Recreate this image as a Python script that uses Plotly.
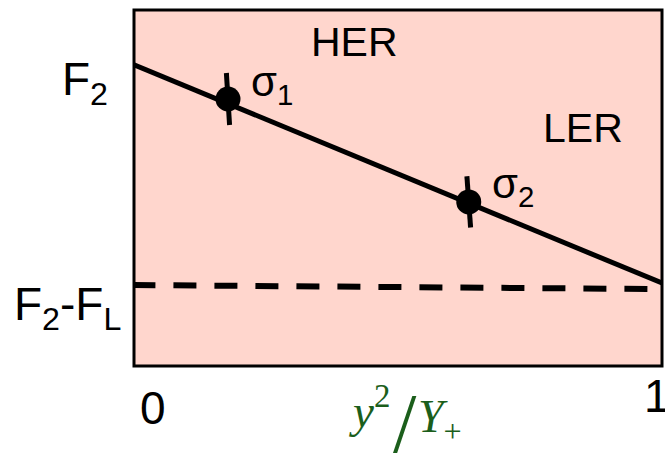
import plotly.graph_objects as go

# Free energy along the reaction coordinate y^2/Y+
x_ends = [0.0, 1.0]
free_energy = [0.846, 0.233]       # solid line F(x)
baseline = [0.2275, 0.216]         # dashed reference level F2 - FL

# measured states sigma1, sigma2
state_x = [0.178, 0.634]
state_y = [0.750, 0.461]
state_err = [0.073, 0.072]
bar_tilt = [0.003, 0.0035]         # small lean of the uncertainty bars

state_labels = ["σ<sub>1</sub>", "σ<sub>2</sub>"]
region_labels = ["HER", "LER"]
x_tick_labels = ["0", "1"]
y_tick_labels = ["F<sub>2</sub>", "F<sub>2</sub>-F<sub>L</sub>"]

BG = "#FFD6CD"
SANS = "Liberation Sans, Arial, sans-serif"
SERIF = "Liberation Serif, Times New Roman, serif"
GREEN = "#1B5E1B"

fig = go.Figure()

fig.add_trace(go.Scatter(x=x_ends, y=free_energy, mode="lines",
                         line=dict(color="black", width=5), cliponaxis=False))
fig.add_trace(go.Scatter(x=[x_ends[0] - 0.003, x_ends[1]], y=baseline, mode="lines",
                         line=dict(color="black", width=6, dash="23px,18px"),
                         cliponaxis=False))

# uncertainty bars through each state
for xs, ys, e, t in zip(state_x, state_y, state_err, bar_tilt):
    fig.add_trace(go.Scatter(x=[xs - t, xs + t], y=[ys + e, ys - e], mode="lines",
                             line=dict(color="black", width=5)))

fig.add_trace(go.Scatter(x=state_x, y=state_y, mode="markers",
                         marker=dict(color="black", size=25)))

ann = []
# state labels
for (lx, ly), txt in zip([(0.218, 0.790), (0.675, 0.503)], state_labels):
    ann.append(dict(x=lx, y=ly, text=txt, xanchor="left", yanchor="middle",
                    font=dict(size=42, family=SANS, color="black")))
# regime labels
for (lx, ly), txt in zip([(0.418, 0.909), (0.850, 0.669)], region_labels):
    ann.append(dict(x=lx, y=ly, text=txt, xanchor="center", yanchor="middle",
                    font=dict(size=41, family=SANS, color="black")))
# axis labels
for (lx, ly), txt in zip([(-0.14, 0.795), (-0.231, 0.165)], y_tick_labels):
    ann.append(dict(x=lx, y=ly, text=txt, xanchor="left", yanchor="middle",
                    font=dict(size=46, family=SANS, color="black")))
for (lx, ly), txt in zip([(0.036, -0.118), (0.99, -0.084)], x_tick_labels):
    ann.append(dict(x=lx, y=ly, text=txt, xanchor="center", yanchor="middle",
                    font=dict(size=46, family=SANS, color="black")))

# x-axis quantity y^2 / Y+, built in three pieces so the slash can be tall
ann.append(dict(x=0.488, y=-0.205, xanchor="right", yanchor="bottom",
                text="<i>y</i><sup>2</sup>", font=dict(size=47, family=SERIF, color=GREEN)))
ann.append(dict(x=0.514, y=-0.298, xanchor="center", yanchor="bottom",
                text="/", font=dict(size=84, family=SERIF, color=GREEN)))
ann.append(dict(x=0.534, y=-0.066, xanchor="left", yanchor="top",
                text="<i>Y</i><sub>+</sub>", font=dict(size=46, family=SERIF, color=GREEN)))

for a in ann:
    a.update(xref="paper", yref="paper", showarrow=False)

fig.update_layout(
    width=665, height=457,
    margin=dict(l=134, r=3, t=10, b=91),
    paper_bgcolor="white", plot_bgcolor=BG,
    showlegend=False, annotations=ann,
    xaxis=dict(range=[0, 1], visible=False, fixedrange=True),
    yaxis=dict(range=[0, 1], visible=False, fixedrange=True),
    shapes=[dict(type="rect", xref="paper", yref="paper", x0=0, x1=1, y0=0, y1=1,
                 line=dict(color="black", width=3), layer="above")],
)

fig.write_html("out.html")
